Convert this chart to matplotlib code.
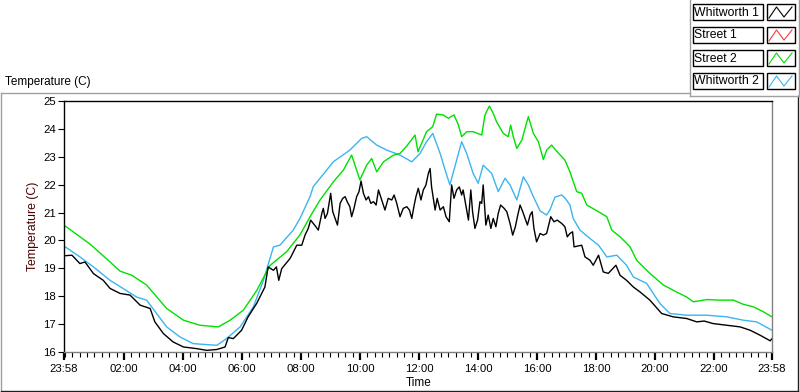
import matplotlib
matplotlib.use("Agg")
import matplotlib.pyplot as plt
from matplotlib.lines import Line2D
from matplotlib.patches import Rectangle
from matplotlib.ticker import FixedLocator

plt.rcParams['font.family'] = ['Liberation Sans', 'DejaVu Sans']

# ---- data (hours elapsed since 23:58 start, temperature in C) ----
series_names = ["Whitworth 1", "Street 1", "Street 2", "Whitworth 2"]
series_colors = ["#000000", "#ff3a3a", "#00e000", "#3cb4f0"]

w1_t = [0, 0.27, 0.54, 0.71, 1.0, 1.33, 1.56, 1.9, 2.24, 2.58,
        2.92, 3.08, 3.37, 3.7, 4.05, 4.5, 4.84, 5.18, 5.46, 5.57,
        5.74, 6.02, 6.24, 6.53, 6.81, 6.92, 7.1, 7.2, 7.28, 7.38,
        7.66, 7.72, 7.89, 8.06, 8.17, 8.28, 8.36, 8.45, 8.54, 8.62,
        8.74, 8.79, 8.85, 8.93, 9.04, 9.11, 9.19, 9.27, 9.36, 9.45,
        9.53, 9.6, 9.69, 9.75, 9.83, 9.92, 10.0, 10.07, 10.15, 10.24,
        10.32, 10.4, 10.49, 10.58, 10.66, 10.77, 10.88, 10.99, 11.11, 11.19,
        11.28, 11.39, 11.5, 11.62, 11.71, 11.79, 11.86, 11.93, 12.01, 12.1,
        12.18, 12.27, 12.35, 12.41, 12.46, 12.52, 12.58, 12.65, 12.75, 12.86,
        12.95, 13.06, 13.14, 13.22, 13.31, 13.4, 13.48, 13.53, 13.63, 13.71,
        13.79, 13.85, 13.93, 14.02, 14.1, 14.16, 14.21, 14.3, 14.38, 14.47,
        14.55, 14.64, 14.72, 14.8, 14.92, 15.01, 15.12, 15.21, 15.3, 15.37,
        15.46, 15.55, 15.63, 15.71, 15.8, 15.87, 15.93, 16.02, 16.14, 16.25,
        16.36, 16.5, 16.61, 16.72, 16.87, 16.98, 17.06, 17.15, 17.24, 17.29,
        17.55, 17.66, 17.83, 17.94, 18.12, 18.28, 18.45, 18.71, 18.85, 19.07,
        19.3, 19.53, 19.86, 20.26, 20.65, 21.11, 21.45, 21.7, 22.0, 22.47,
        22.92, 23.26, 23.6, 23.94, 24.0]
w1_v = [19.45, 19.47, 19.17, 19.23, 18.81, 18.57, 18.28, 18.1, 18.04, 17.68,
        17.56, 17.08, 16.66, 16.36, 16.18, 16.12, 16.06, 16.09, 16.18, 16.52,
        16.48, 16.78, 17.26, 17.74, 18.33, 19.05, 18.93, 19.05, 18.57, 18.99,
        19.35, 19.47, 19.83, 19.83, 20.19, 20.43, 20.73, 20.61, 20.49, 20.37,
        20.97, 21.15, 20.79, 20.97, 21.69, 21.03, 20.79, 20.55, 21.33, 21.51,
        21.57, 21.39, 21.21, 20.85, 21.15, 21.57, 21.75, 22.13, 21.69, 21.45,
        21.57, 21.33, 21.39, 21.27, 21.81, 21.45, 21.09, 21.51, 21.45, 21.63,
        21.33, 20.85, 21.15, 21.21, 21.09, 20.79, 21.21, 21.57, 21.87, 21.45,
        21.81, 21.99, 22.4, 22.58, 21.92, 21.51, 21.09, 21.51, 21.09, 21.21,
        20.85, 20.67, 21.99, 21.51, 21.81, 21.92, 21.63, 21.81, 21.21, 20.73,
        21.81, 21.03, 20.43, 20.73, 21.39, 21.33, 21.99, 20.55, 20.91, 20.43,
        20.79, 20.49, 20.97, 21.27, 21.15, 21.03, 20.61, 20.19, 20.49, 20.85,
        21.27, 21.03, 20.79, 20.55, 20.91, 21.03, 20.43, 19.95, 20.25, 20.19,
        20.25, 20.85, 20.67, 20.73, 20.61, 20.49, 20.13, 20.25, 20.31, 19.77,
        19.83, 19.41, 19.29, 19.11, 19.47, 18.87, 18.82, 19.11, 18.75, 18.57,
        18.33, 18.15, 17.86, 17.38, 17.26, 17.2, 17.08, 17.11, 17.02, 16.96,
        16.9, 16.78, 16.6, 16.4, 16.48]

s1_t = []
s1_v = []

s2_t = [0, 0.88, 1.56, 1.9, 2.3, 2.8, 3.14, 3.48, 4.05, 4.6,
        5.23, 5.63, 6.08, 6.53, 6.98, 7.55, 8.0, 8.34, 8.68, 9.13,
        9.47, 9.75, 10.03, 10.26, 10.43, 10.6, 10.83, 11.17, 11.39, 11.6,
        11.9, 12.0, 12.29, 12.5, 12.63, 12.85, 13.03, 13.22, 13.37, 13.48,
        13.65, 13.87, 14.16, 14.27, 14.42, 14.55, 14.66, 14.89, 15.06, 15.14,
        15.23, 15.35, 15.52, 15.74, 15.91, 16.08, 16.25, 16.36, 16.53, 16.7,
        16.98, 17.15, 17.38, 17.55, 17.72, 18.12, 18.4, 18.57, 18.85, 19.19,
        19.41, 19.86, 20.32, 20.77, 21.11, 21.33, 21.79, 22.24, 22.69, 23.03,
        23.37, 23.71, 24.0]
s2_v = [20.55, 19.87, 19.23, 18.9, 18.75, 18.4, 17.98, 17.56, 17.14, 16.96,
        16.9, 17.14, 17.5, 18.2, 19.1, 19.6, 20.2, 20.85, 21.45, 22.1,
        22.52, 23.06, 22.17, 22.7, 22.94, 22.46, 22.82, 23.06, 23.12, 23.36,
        23.78, 23.18, 23.9, 24.08, 24.53, 24.5, 24.38, 24.5, 24.14, 23.72,
        23.9, 23.9, 23.78, 24.5, 24.82, 24.56, 24.26, 23.84, 23.72, 24.14,
        23.72, 23.3, 23.6, 24.44, 23.84, 23.54, 22.9, 23.24, 23.42, 23.2,
        22.88, 22.46, 21.75, 21.69, 21.27, 21.03, 20.85, 20.37, 20.13, 19.77,
        19.29, 18.82, 18.4, 18.15, 17.97, 17.8, 17.88, 17.86, 17.86, 17.71,
        17.62, 17.44, 17.26]

w2_t = [0, 0.54, 1.0, 1.56, 2.0, 2.46, 2.8, 3.14, 3.48, 3.93,
        4.38, 5.18, 5.51, 5.97, 6.42, 6.76, 7.1, 7.32, 7.77, 8.0,
        8.34, 8.45, 9.13, 9.69, 10.09, 10.26, 10.6, 10.94, 11.39, 11.79,
        12.07, 12.29, 12.5, 12.75, 12.92, 13.08, 13.31, 13.48, 13.65, 13.87,
        14.04, 14.21, 14.5, 14.72, 14.95, 15.12, 15.35, 15.57, 15.74, 15.91,
        16.14, 16.36, 16.47, 16.64, 16.87, 17.0, 17.15, 17.26, 17.49, 17.83,
        18.12, 18.4, 18.74, 19.07, 19.3, 19.75, 20.2, 20.54, 21.11, 21.79,
        22.47, 23.03, 23.48, 24.0]
w2_v = [19.8, 19.41, 19.05, 18.57, 18.28, 17.97, 17.86, 17.38, 16.9, 16.54,
        16.3, 16.24, 16.48, 16.9, 17.62, 18.57, 19.77, 19.83, 20.37, 20.79,
        21.57, 21.93, 22.82, 23.24, 23.66, 23.72, 23.42, 23.24, 23.06, 22.82,
        23.12, 23.54, 23.84, 23.12, 22.52, 21.99, 22.88, 23.54, 23.12, 22.4,
        22.05, 22.7, 22.4, 21.75, 22.23, 21.99, 21.45, 22.28, 21.99, 21.57,
        21.06, 20.91, 21.09, 21.55, 21.63, 21.5, 21.27, 20.79, 20.37, 20.07,
        19.83, 19.41, 19.47, 19.11, 18.69, 18.46, 17.74, 17.38, 17.32, 17.32,
        17.26, 17.14, 17.08, 16.78]

x_tick_labels = ["23:58", "02:00", "04:00", "06:00", "08:00", "10:00", "12:00",
                 "14:00", "16:00", "18:00", "20:00", "22:00", "23:58"]
y_ticks = [16, 17, 18, 19, 20, 21, 22, 23, 24, 25]

W, H = 800, 392
fig = plt.figure(figsize=(W / 100, H / 100), dpi=100)
fig.patch.set_facecolor("white")

def fx(px):
    return px / W

def fy(py):
    return 1 - py / H

# axes area (pixels: left 64, right 772, top 101, bottom 352)
ax = fig.add_axes([fx(64), fy(352), fx(772) - fx(64), fy(101) - fy(352)])

all_series = [(w1_t, w1_v), (s1_t, s1_v), (s2_t, s2_v), (w2_t, w2_v)]
# draw order: red, blue, green, black on top
for idx in [1, 3, 2, 0]:
    t, v = all_series[idx]
    ax.plot(t, v, color=series_colors[idx], lw=1.0)

ax.set_xlim(0, 24)
ax.set_ylim(16, 25)

# major ticks: start, every 2 hours on the clock, end
start_offset = 2 / 60.0  # 23:58 -> 00:00
major = [0] + [start_offset + 2 * k for k in range(1, 12)] + [24]
minor = [start_offset + 0.25 * k for k in range(0, 96)]
minor = [m for m in minor if 0 < m < 24]
ax.xaxis.set_major_locator(FixedLocator(major))
ax.xaxis.set_minor_locator(FixedLocator(minor))
ax.set_xticklabels(x_tick_labels)
ax.set_yticks(y_ticks)
ax.set_yticklabels([str(y) for y in y_ticks])

ax.tick_params(axis="x", which="major", length=6, width=1.6, pad=3,
               labelsize=8.2, colors="#000000", direction="out")
ax.tick_params(axis="x", which="minor", length=3.5, width=0.8,
               direction="out", color="#000000")
ax.tick_params(axis="y", which="major", length=4, width=0.8, pad=2,
               labelsize=8.2, direction="out")

for side in ["left", "top"]:
    ax.spines[side].set_color("#000000")
    ax.spines[side].set_linewidth(1.0)
for side in ["right", "bottom"]:
    ax.spines[side].set_color("#808080")
    ax.spines[side].set_linewidth(1.0)

ax.set_xlabel("Time", fontsize=8.5, labelpad=1)
ax.xaxis.set_label_coords(0.501, -0.098)
ax.set_ylabel("Temperature (C)", fontsize=8.8, color="#4a0000", labelpad=4)
ax.yaxis.set_label_coords(-0.036, 0.5)

# chart frame (LabVIEW style sunken panel)
fig.add_artist(Line2D([fx(0.5), fx(690)], [fy(92.5), fy(92.5)], color="#a0a0a0", lw=1))
fig.add_artist(Line2D([fx(0.8), fx(0.8)], [fy(92.5), fy(391)], color="#a0a0a0", lw=1))
fig.add_artist(Line2D([fx(0.5), fx(797.5)], [fy(391), fy(391)], color="#202020", lw=1))
fig.add_artist(Line2D([fx(797.5), fx(797.5)], [fy(96), fy(391)], color="#202020", lw=1))
# legend frame
fig.add_artist(Line2D([fx(689.5), fx(689.5)], [fy(0), fy(96)], color="#a0a0a0", lw=1))
fig.add_artist(Line2D([fx(689.5), fx(798.5)], [fy(96), fy(96)], color="#a0a0a0", lw=1))
fig.add_artist(Line2D([fx(798.5), fx(798.5)], [fy(0), fy(96)], color="#a0a0a0", lw=1))

fig.text(fx(5), fy(82), "Temperature (C)", fontsize=8.5, ha="left", va="center")

# legend (plot legend boxes)
for i, name in enumerate(series_names):
    top = 4 + 23 * i
    fig.add_artist(Rectangle((fx(692.5), fy(top + 16)), fx(70), fy(0) - fy(16),
                             transform=fig.transFigure, facecolor="white",
                             edgecolor="#000000", lw=1))
    fig.text(fx(694), fy(top + 8.5), name, fontsize=8.8, ha="left", va="center")
    fig.add_artist(Rectangle((fx(766.5), fy(top + 16)), fx(28.5), fy(0) - fy(16),
                             transform=fig.transFigure, facecolor="white",
                             edgecolor="#000000", lw=1))
    zy = [top + 14, top + 3, top + 13, top + 3]
    zx = [769, 776.5, 784, 792]
    fig.add_artist(Line2D([fx(p) for p in zx], [fy(p) for p in zy],
                          color=series_colors[i], lw=0.8))

fig.savefig("out.png", dpi=100, facecolor="white")
